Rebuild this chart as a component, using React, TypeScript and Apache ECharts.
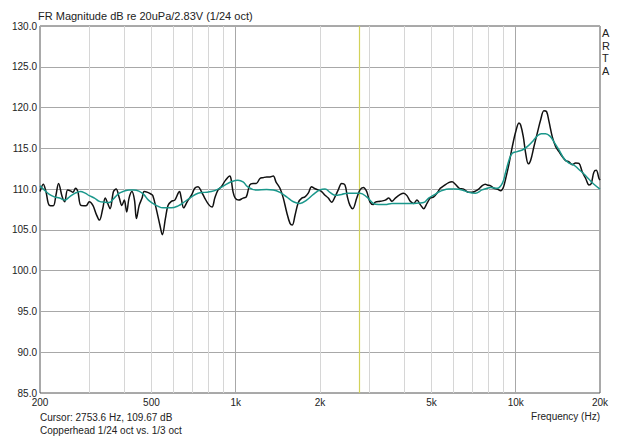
import React, { useEffect, useRef } from "react";
import * as echarts from "echarts";

// 1/24 octave response (Hz, dB)
const black24: [number, number][] = [
  [200, 109.7], [205.5, 110.6], [210, 109.7], [216, 108.0], [223, 107.95], [228, 109.25], [233, 110.7],
  [240, 109.05], [245, 108.45], [251, 109.9], [258, 109.75], [262, 109.6], [268, 110.1], [273, 109.7],
  [280, 108.0], [292, 107.95], [300, 108.45], [309, 108.0], [317, 107.0], [326, 106.2], [335, 107.6],
  [342, 108.9], [349, 108.25], [356, 107.6], [366, 109.7], [374, 110.0], [384, 108.9], [392, 108.0],
  [400, 108.65], [408, 107.2], [416, 108.9], [426, 109.7], [435, 108.65], [442, 106.4], [452, 108.0],
  [463, 108.9], [471, 109.7], [485, 109.6], [498, 109.4], [506, 109.2], [520, 107.6], [536, 105.6],
  [547, 104.4], [561, 106.4], [573, 108.0], [589, 108.5], [606, 108.65], [623, 109.5], [630, 109.7],
  [639, 108.9], [652, 107.7], [671, 108.45], [695, 109.25], [714, 110.1], [734, 110.3], [754, 109.7],
  [775, 108.9], [801, 108.1], [823, 107.8], [842, 108.9], [865, 109.9], [889, 110.3], [920, 111.1],
  [953, 111.6], [964, 111.1], [978, 109.7], [996, 108.9], [1025, 108.65], [1062, 108.9], [1091, 109.05],
  [1122, 110.5], [1153, 110.7], [1184, 110.7], [1221, 111.3], [1251, 111.4], [1290, 111.5], [1326, 111.5],
  [1362, 111.6], [1392, 110.9], [1439, 110.1], [1479, 108.9], [1520, 107.2], [1563, 105.8], [1593, 105.6],
  [1629, 106.8], [1675, 108.4], [1722, 108.9], [1767, 109.05], [1816, 109.5], [1866, 110.3], [1906, 110.1],
  [1972, 109.9], [2027, 109.7], [2085, 109.25], [2141, 108.9], [2201, 108.4], [2262, 109.05], [2324, 109.9],
  [2390, 110.7], [2456, 110.5], [2505, 109.05], [2559, 108.0], [2617, 107.6], [2706, 108.9], [2779, 109.9],
  [2856, 110.2], [2936, 109.7], [3017, 108.4], [3101, 108.1], [3152, 108.4], [3283, 108.5], [3422, 108.65],
  [3518, 108.9], [3615, 108.5], [3716, 108.9], [3871, 109.35], [3980, 109.5], [4089, 109.2], [4202, 108.5],
  [4322, 108.25], [4439, 108.65], [4562, 108.1], [4692, 107.6], [4820, 108.25], [4953, 108.9], [5094, 109.05],
  [5233, 109.5], [5378, 110.1], [5531, 110.4], [5762, 110.8], [5923, 110.9], [6088, 110.6], [6287, 110.1],
  [6519, 110.0], [6794, 109.6], [6981, 109.6], [7174, 109.75], [7374, 110.0], [7579, 110.4], [7787, 110.6],
  [7915, 110.5], [8140, 110.4], [8362, 110.1], [8589, 110.0], [8840, 109.8], [9031, 110.2], [9210, 111.3],
  [9462, 113.1], [9724, 115.2], [9995, 117.0], [10272, 118.1], [10415, 117.85], [10646, 116.4], [10852, 114.4],
  [11087, 113.1], [11310, 113.55], [11614, 115.2], [11929, 116.8], [12279, 118.5], [12612, 119.6], [12890, 119.5],
  [13146, 118.3], [13511, 116.4], [13891, 115.2], [14272, 114.6], [14666, 114.0], [15080, 113.5], [15495, 113.35],
  [15923, 113.0], [16369, 113.2], [16822, 113.15], [17290, 112.1], [17780, 111.3], [18270, 110.5], [18617, 110.7],
  [19027, 112.1], [19393, 112.3], [19835, 111.3], [20000, 111.1],
];

// 1/3 octave response (Hz, dB)
const teal3: [number, number][] = [
  [200, 110.4], [207, 109.9], [216, 109.35], [225, 109.05], [235, 108.9], [245, 108.65], [255, 109.05],
  [267, 109.5], [279, 109.7], [290, 109.5], [300, 109.2], [313, 108.9], [326, 108.5], [340, 108.4],
  [353, 108.35], [368, 108.9], [384, 109.5], [399, 109.75], [416, 109.9], [433, 109.9], [451, 109.75],
  [469, 109.35], [488, 108.65], [506, 108.25], [524, 107.95], [550, 107.7], [589, 107.7], [623, 107.95],
  [657, 108.45], [695, 109.05], [734, 109.5], [775, 109.6], [818, 109.7], [865, 110.0], [915, 110.5],
  [964, 110.9], [1018, 111.1], [1062, 110.9], [1102, 110.3], [1180, 109.9], [1290, 109.95], [1362, 109.9],
  [1439, 109.6], [1520, 109.05], [1607, 108.45], [1697, 108.25], [1792, 108.65], [1894, 109.35], [2000, 109.9],
  [2085, 110.0], [2171, 109.6], [2262, 109.25], [2390, 109.35], [2505, 109.5], [2631, 109.5], [2779, 109.5],
  [2936, 109.05], [3101, 108.25], [3240, 108.1], [3422, 108.1], [3615, 108.25], [3819, 108.25], [4031, 108.25],
  [4263, 108.25], [4501, 108.3], [4692, 108.35], [4887, 108.9], [5094, 109.25], [5306, 109.65], [5531, 109.9],
  [5762, 110.0], [6088, 110.0], [6431, 109.9], [6794, 109.6], [7174, 109.5], [7579, 109.9], [7893, 110.1],
  [8140, 110.2], [8589, 110.1], [8955, 110.7], [9210, 112.1], [9462, 113.55], [9724, 114.4], [10129, 114.6],
  [10554, 114.8], [10998, 115.2], [11459, 115.8], [11929, 116.5], [12343, 116.8], [12783, 116.8], [13255, 116.5],
  [13692, 115.8], [14272, 114.8], [14866, 113.75], [15495, 113.2], [16140, 112.95], [16822, 112.4], [17523, 111.85],
  [18270, 111.2], [19027, 110.6], [20000, 110.0],
];

const xLabelFreqs = [200, 500, 1000, 2000, 5000, 10000, 20000];
const minorGridFreqs = [300, 400, 500, 600, 700, 800, 900, 2000, 3000, 4000, 5000, 6000, 7000, 8000, 9000];
const majorGridFreqs = [1000, 10000];
const cursorFreq = 2753.6;
const yMin = 85;
const yMax = 130;
const yStep = 5;

const FONT = "'Liberation Sans', Arial, sans-serif";

export default function App() {
  const ref = useRef<HTMLDivElement>(null);
  useEffect(() => {
    if (!ref.current) return;
    const chart = echarts.init(ref.current, null, { renderer: "svg" });
    const fmtX = (v: number) => (v >= 1000 ? `${Math.round(v / 1000)}k` : `${v}`);
    chart.setOption({
      animation: false,
      backgroundColor: "#ffffff",
      title: {
        text: "FR Magnitude dB re 20uPa/2.83V (1/24 oct)",
        left: 38,
        top: 10,
        padding: 0,
        textStyle: { fontSize: 11, fontWeight: "normal", color: "#222", fontFamily: FONT },
      },
      grid: {
        left: 40,
        top: 26,
        width: 560,
        height: 367,
        show: true,
        borderColor: "#555",
        borderWidth: 1,
        backgroundColor: "transparent",
      },
      xAxis: {
        type: "log",
        logBase: 10,
        min: 200,
        max: 20000,
        axisLine: { show: false },
        axisTick: { show: false },
        splitLine: { show: false },
        minorSplitLine: { show: false },
        axisLabel: {
          customValues: xLabelFreqs,
          formatter: (v: number) => fmtX(v),
          margin: 4,
          fontSize: 10,
          color: "#222",
          fontFamily: FONT,
          showMinLabel: true,
          showMaxLabel: true,
        },
      },
      yAxis: {
        type: "value",
        min: yMin,
        max: yMax,
        interval: yStep,
        axisLine: { show: false },
        axisTick: { show: false },
        splitLine: { show: true, lineStyle: { color: "#a8a8a8", width: 1 } },
        axisLabel: {
          formatter: (v: number) => v.toFixed(1),
          margin: 3,
          fontSize: 10,
          color: "#222",
          fontFamily: FONT,
        },
      },
      series: [
        {
          name: "grid",
          type: "line",
          data: [],
          silent: true,
          markLine: {
            silent: true,
            z: 1,
            symbol: ["none", "none"],
            label: { show: false },
            animation: false,
            data: [
              ...minorGridFreqs.map((f) => ({ xAxis: f, lineStyle: { color: "#d6d6d6", width: 1, type: "solid" } })),
              ...majorGridFreqs.map((f) => ({ xAxis: f, lineStyle: { color: "#a8a8a8", width: 1, type: "solid" } })),
              { xAxis: cursorFreq, lineStyle: { color: "#d2d25a", width: 1.2, type: "solid" } },
            ],
          },
        },
        {
          name: "1/24 oct",
          type: "line",
          data: black24,
          showSymbol: false,
          smooth: 0.35,
          z: 3,
          lineStyle: { color: "#111111", width: 1.5 },
        },
        {
          name: "1/3 oct",
          type: "line",
          data: teal3,
          showSymbol: false,
          smooth: 0.4,
          z: 4,
          lineStyle: { color: "#1a978b", width: 1.5 },
        },
      ],
      graphic: [
        {
          type: "text",
          left: 602,
          top: 27,
          style: { text: "A\nR\nT\nA", fontSize: 11, lineHeight: 12.5, fill: "#222", fontFamily: FONT },
        },
        {
          type: "text",
          left: 40,
          top: 412,
          style: { text: "Cursor: 2753.6 Hz, 109.67 dB", fontSize: 10, fill: "#222", fontFamily: FONT },
        },
        {
          type: "text",
          left: 40,
          top: 425,
          style: { text: "Copperhead 1/24 oct vs. 1/3 oct", fontSize: 10, fill: "#222", fontFamily: FONT },
        },
        {
          type: "text",
          right: 40,
          top: 411,
          style: { text: "Frequency (Hz)", fontSize: 10, fill: "#222", fontFamily: FONT },
        },
      ],
    });
    return () => chart.dispose();
  }, []);
  return (
    <div
      ref={ref}
      style={{ position: "fixed", left: 0, top: 0, width: 640, height: 438, background: "#fff" }}
    />
  );
}
